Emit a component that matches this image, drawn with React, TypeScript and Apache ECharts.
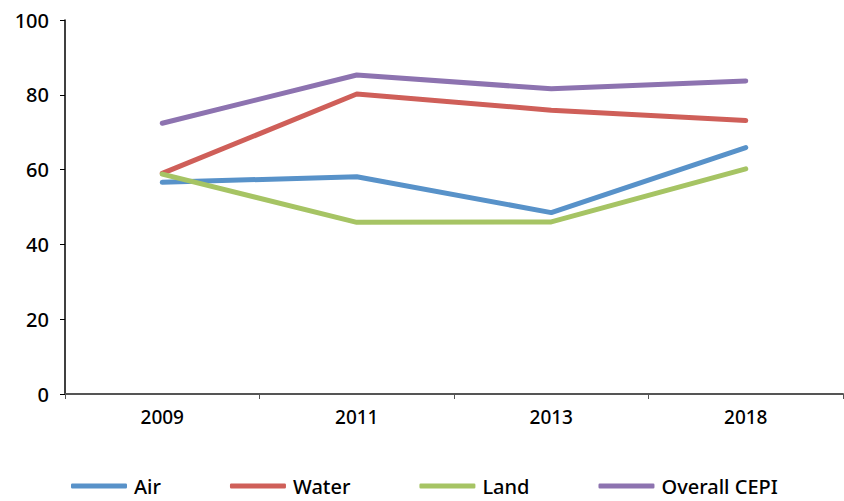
import React, { useEffect, useRef } from "react";
import * as echarts from "echarts";

const years = ["2009", "2011", "2013", "2018"];
const air = [56.6, 58.1, 48.5, 65.9];
const water = [59.0, 80.2, 75.9, 73.1];
const land = [58.8, 45.9, 46.0, 60.2];
const overall = [72.4, 85.3, 81.6, 83.7];

const seriesNames = ["Air", "Water", "Land", "Overall CEPI"];
const seriesColors = ["#5892C9", "#CF5F59", "#A6C464", "#8D73B0"];
const seriesData = [air, water, land, overall];

const FONT = "'Noto Sans', sans-serif";

export default function App() {
  const ref = useRef<HTMLDivElement>(null);
  useEffect(() => {
    if (!ref.current) return;
    const chart = echarts.init(ref.current, undefined, { renderer: "svg" });
    chart.setOption({
      animation: false,
      textStyle: { fontFamily: FONT },
      grid: { left: 65, right: 1, top: 20, bottom: 107, containLabel: false },
      legend: {
        bottom: 0,
        left: 66,
        itemWidth: 56,
        itemHeight: 5,
        itemGap: 69,
        icon: "roundRect",
        textStyle: { fontSize: 20, color: "#000", fontFamily: FONT, fontWeight: 500, padding: [0, 0, 0, 2] },
        data: seriesNames,
      },
      xAxis: {
        type: "category",
        data: years,
        boundaryGap: true,
        axisLine: { lineStyle: { color: "#555", width: 2 } },
        axisTick: { show: true, length: 5, lineStyle: { color: "#555" } },
        axisLabel: { fontSize: 19, color: "#000", margin: 13, fontFamily: FONT, fontWeight: 500 },
        splitLine: { show: false },
      },
      yAxis: {
        type: "value",
        min: 0,
        max: 100,
        interval: 20,
        axisLine: { show: true, lineStyle: { color: "#000", width: 1.5 } },
        axisTick: { show: true, inside: false, length: 5, lineStyle: { color: "#000" } },
        axisLabel: { fontSize: 20, color: "#000", margin: 16, fontFamily: FONT, fontWeight: 500 },
        splitLine: { show: false },
      },
      series: seriesData.map((d, i) => ({
        name: seriesNames[i],
        type: "line",
        data: d,
        symbol: "none",
        color: seriesColors[i],
        lineStyle: { width: 5, color: seriesColors[i], cap: "round", join: "round" },
      })),
    });
    return () => chart.dispose();
  }, []);
  return <div ref={ref} style={{ width: 844, height: 501, position: "absolute", left: 0, top: 0 }} />;
}
